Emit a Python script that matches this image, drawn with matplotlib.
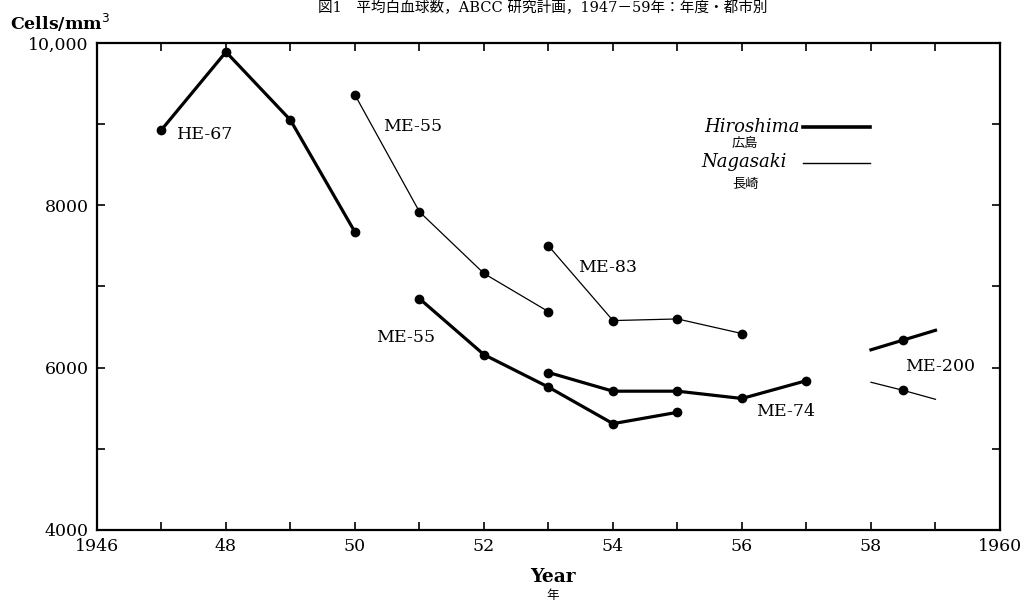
import matplotlib.pyplot as plt
import numpy as np

plt.rcParams['font.family'] = ['DejaVu Serif', 'Noto Sans CJK JP', 'DejaVu Sans']

# Hiroshima (thick lines)
hir_he67_x = [1947, 1948, 1949, 1950]
hir_he67_y = [8930, 9890, 9050, 7670]
hir_me55_x = [1951, 1952, 1953, 1954, 1955]
hir_me55_y = [6850, 6160, 5760, 5310, 5450]
hir_me74_x = [1953, 1954, 1955, 1956, 1957]
hir_me74_y = [5940, 5710, 5710, 5620, 5840]
hir_me200_x = [1958, 1958.5, 1959]
hir_me200_y = [6220, 6340, 6460]

# Nagasaki (thin lines)
nag_me55_x = [1950, 1951, 1952, 1953]
nag_me55_y = [9360, 7920, 7160, 6690]
nag_me83_x = [1953, 1954, 1955, 1956]
nag_me83_y = [7500, 6580, 6600, 6420]
nag_me200_x = [1958, 1958.5, 1959]
nag_me200_y = [5820, 5720, 5610]

xticks = list(range(1946, 1961))
xlabels = ['1946', '', '48', '', '50', '', '52', '', '54', '', '56', '', '58', '', '1960']
yticks = [4000, 5000, 6000, 7000, 8000, 9000, 10000]
ylabels = ['4000', '', '6000', '', '8000', '', '10,000']

fig = plt.figure(figsize=(10.25, 6.03), dpi=100)
ax = fig.add_axes([0.0946, 0.1211, 0.881, 0.8076])

thick = dict(color='black', lw=2.3, marker='o', ms=6)
thin = dict(color='black', lw=0.9, marker='o', ms=6)

ax.plot(hir_he67_x, hir_he67_y, **thick)
ax.plot(hir_me55_x, hir_me55_y, **thick)
ax.plot(hir_me74_x, hir_me74_y, **thick)
ax.plot(hir_me200_x, hir_me200_y, markevery=[1], **thick)
ax.plot(nag_me55_x, nag_me55_y, **thin)
ax.plot(nag_me83_x, nag_me83_y, **thin)
ax.plot(nag_me200_x, nag_me200_y, markevery=[1], **thin)

lab = dict(fontsize=12.5, ha='center', va='center')
ax.text(1947.67, 8870, 'HE-67', **lab)
ax.text(1950.9, 8970, 'ME-55', **lab)
ax.text(1953.92, 7230, 'ME-83', **lab)
ax.text(1950.78, 6370, 'ME-55', **lab)
ax.text(1956.68, 5460, 'ME-74', **lab)
ax.text(1959.07, 6020, 'ME-200', **lab)

# legend drawn by hand like the original
ax.text(1956.9, 8966, 'Hiroshima', fontsize=13, style='italic', ha='right', va='center')
ax.plot([1956.95, 1957.98], [8966, 8966], color='black', lw=2.6)
ax.text(1956.05, 8768, '広島', fontsize=9.5, ha='center', va='center')
ax.text(1956.7, 8534, 'Nagasaki', fontsize=13, style='italic', ha='right', va='center')
ax.plot([1956.95, 1957.98], [8522, 8522], color='black', lw=1.0)
ax.text(1956.05, 8251, '長崎', fontsize=9.5, ha='center', va='center')

ax.set_xlim(1946, 1960)
ax.set_ylim(4000, 10000)
ax.set_xticks(xticks)
ax.set_xticklabels(xlabels, fontsize=12.5)
ax.set_yticks(yticks)
ax.set_yticklabels(ylabels, fontsize=12.5)
ax.tick_params(direction='in', top=True, right=True, length=6, width=1.2, pad=6)
for s in ax.spines.values():
    s.set_linewidth(1.6)

fig.text(0.01, 0.962, 'Cells/mm$^3$', fontsize=12.5, fontweight='bold', ha='left', va='center')
fig.text(0.539, 0.043, 'Year', fontsize=13.5, fontweight='bold', ha='center', va='center')
fig.text(0.539, 0.012, '年', fontsize=9, ha='center', va='center')
fig.text(0.53, 0.998, '図1　平均白血球数，ABCC 研究計画，1947－59年：年度・都市別',
         fontsize=10.5, ha='center', va='top')

fig.savefig('out.png', dpi=100, facecolor='white')
